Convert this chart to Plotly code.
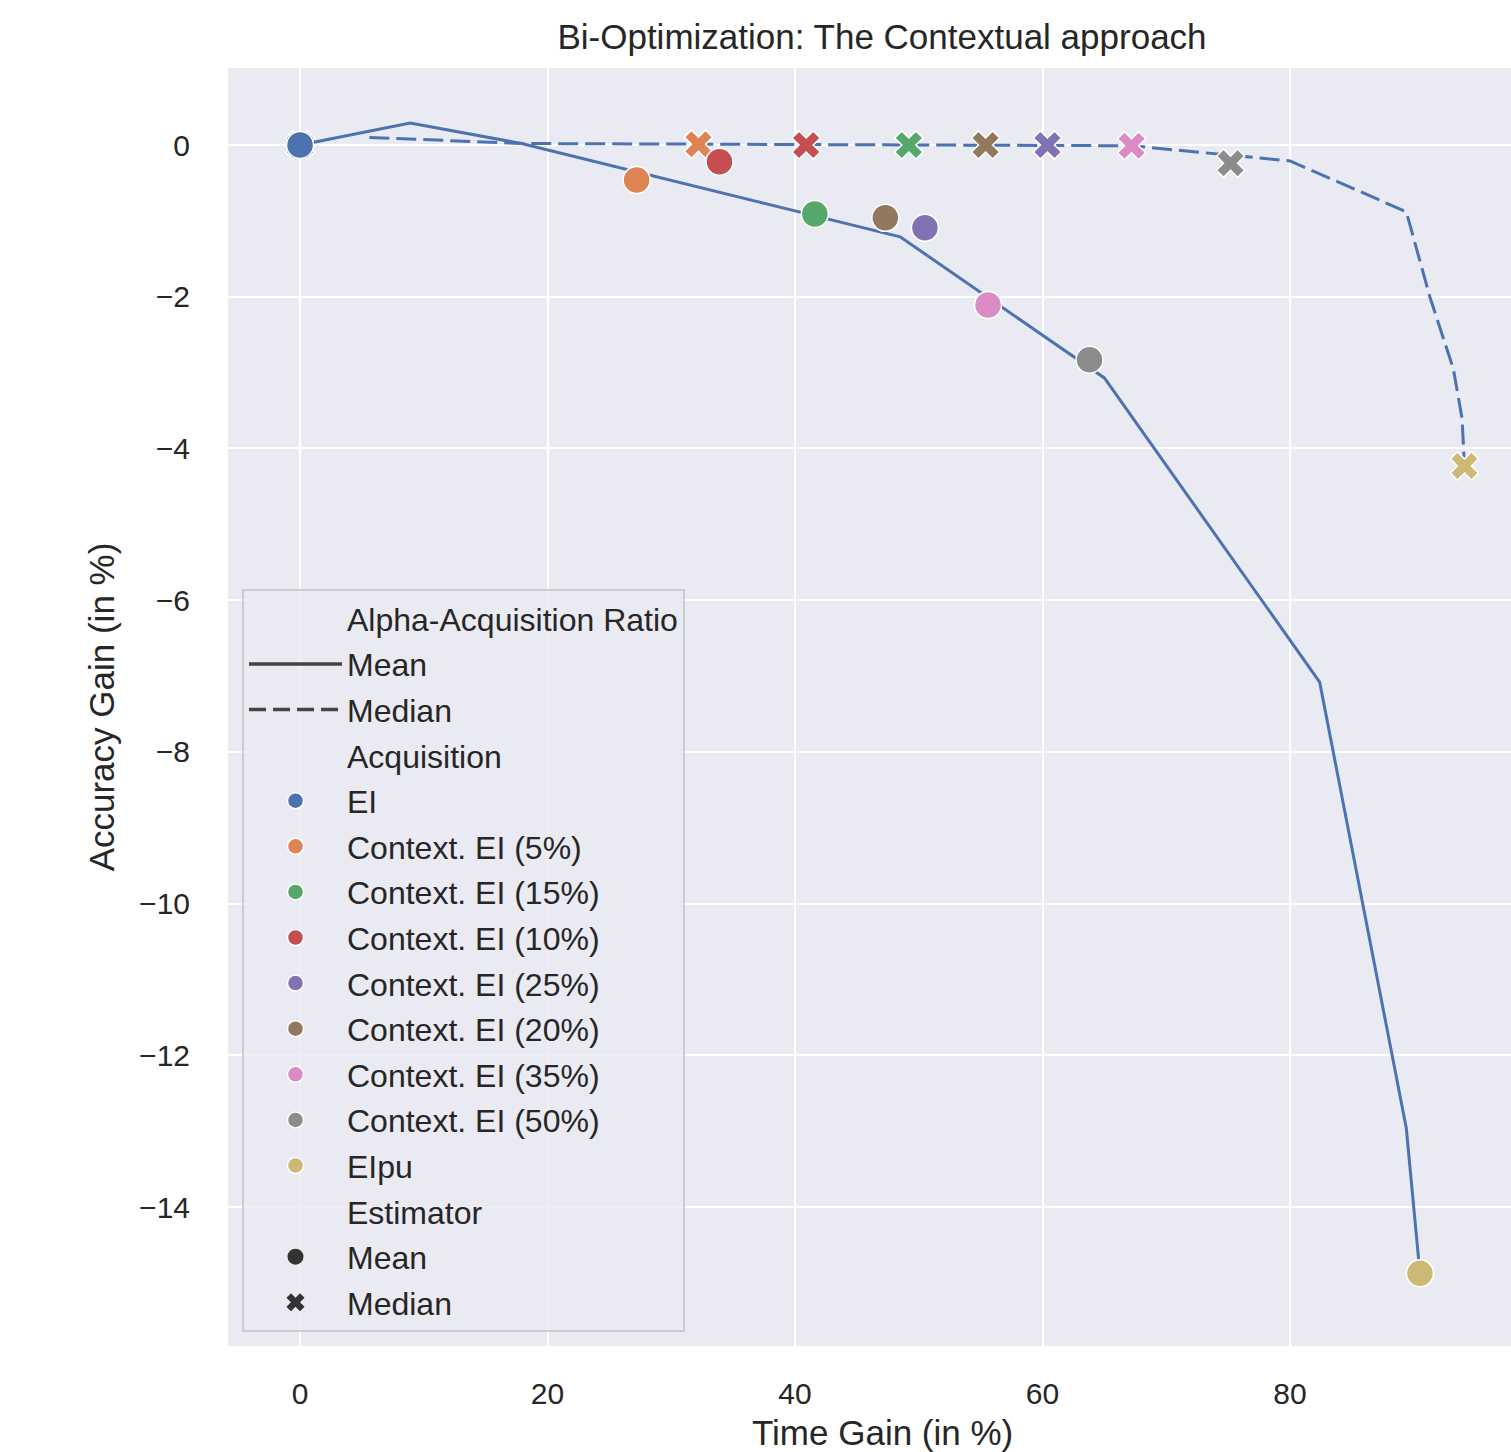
import plotly.graph_objects as go

# ---------------- data ----------------
acquisitions = ["EI", "Context. EI (5%)", "Context. EI (15%)", "Context. EI (10%)",
                "Context. EI (25%)", "Context. EI (20%)", "Context. EI (35%)",
                "Context. EI (50%)", "EIpu"]
palette = ["#4C72B0", "#DD8452", "#55A868", "#C44E52", "#8172B3",
           "#937860", "#DA8BC3", "#8C8C8C", "#CCB974"]

mean_time = [0.0, 27.2, 41.6, 33.9, 50.5, 47.3, 55.6, 63.8, 90.5]
mean_acc = [0.0, -0.46, -0.91, -0.22, -1.09, -0.96, -2.11, -2.83, -14.87]
median_time = [0.0, 32.2, 49.2, 40.9, 60.4, 55.4, 67.2, 75.2, 94.1]
median_acc = [0.0, 0.01, 0.0, 0.0, 0.0, 0.0, -0.01, -0.24, -4.23]

mean_line_time = [0.0, 8.9, 17.9, 48.5, 65.0, 82.4, 89.4, 90.5]
mean_line_acc = [0.0, 0.29, 0.02, -1.21, -3.07, -7.08, -12.96, -14.87]
median_line_time = [5.6, 17.9, 67.2, 80.0, 89.4, 91.3, 93.2, 93.9, 94.1]
median_line_acc = [0.10, 0.02, -0.01, -0.21, -0.88, -2.00, -2.95, -3.60, -4.23]

x_ticks = [0, 20, 40, 60, 80]
y_ticks = [0, -2, -4, -6, -8, -10, -12, -14]

title = "Bi-Optimization: The Contextual approach"
x_label = "Time Gain (in %)"
y_label = "Accuracy Gain (in %)"

FONT = "Liberation Sans, Arial, sans-serif"
TXT = "#262626"
LINE_C = "#4C72B0"
LEG_GREY = "#444444"

# figure fills the window exactly (body margin removed below)
W, H = 1511, 1452
ML, MR, MT, MB = 228, 0, 68, 106
PW = W - ML - MR
PH = H - MT - MB


def px_x(px):  # page px -> paper x
    return (px - ML) / PW


def px_y(py):  # page px -> paper y
    return (H - MB - py) / PH


fig = go.Figure()
gid = [0]


def grp():
    gid[0] += 1
    return "g%d" % gid[0]


def header(text):
    fig.add_trace(go.Scatter(x=[None], y=[None], mode="markers", name=text,
                             marker=dict(color="rgba(0,0,0,0)", size=1),
                             legendgroup=grp(), hoverinfo="skip"))


# ---- lines ----
fig.add_trace(go.Scatter(x=mean_line_time, y=mean_line_acc, mode="lines",
                         line=dict(color=LINE_C, width=3), showlegend=False,
                         hoverinfo="skip"))
fig.add_trace(go.Scatter(x=median_line_time, y=median_line_acc, mode="lines",
                         line=dict(color=LINE_C, width=3, dash="20px,7px"),
                         showlegend=False, hoverinfo="skip"))

# ---- median markers (X) ----
for i, a in enumerate(acquisitions):
    fig.add_trace(go.Scatter(x=[median_time[i]], y=[median_acc[i]], mode="markers",
                             marker=dict(symbol="x", size=25, color=palette[i],
                                         line=dict(color="white", width=1.5)),
                             showlegend=False, name=a + " median"))

# ---- legend: Alpha-Acquisition Ratio ----
header("Alpha-Acquisition Ratio")
fig.add_trace(go.Scatter(x=[None], y=[None], mode="lines", name="Mean",
                         line=dict(color=LEG_GREY, width=3.5), legendgroup=grp()))
fig.add_trace(go.Scatter(x=[None], y=[None], mode="lines", name="Median",
                         line=dict(color=LEG_GREY, width=3.5, dash="17px,7px"),
                         legendgroup=grp()))

# ---- mean markers (circles), shown in legend as Acquisition ----
header("Acquisition")
for i, a in enumerate(acquisitions):
    fig.add_trace(go.Scatter(x=[mean_time[i]], y=[mean_acc[i]], mode="markers",
                             marker=dict(symbol="circle", size=27, color=palette[i],
                                         line=dict(color="white", width=1.5)),
                             name=a, legendgroup=grp()))

# ---- legend: Estimator ----
header("Estimator")
fig.add_trace(go.Scatter(x=[None], y=[None], mode="markers", name="Mean",
                         marker=dict(symbol="circle", size=20, color="#333333"),
                         legendgroup=grp()))
fig.add_trace(go.Scatter(x=[None], y=[None], mode="markers", name="Median",
                         marker=dict(symbol="x", size=20, color="#333333"),
                         legendgroup=grp()))

axis_common = dict(showgrid=True, gridcolor="white", gridwidth=2, zeroline=False,
                   showline=False, ticks="", tickfont=dict(family=FONT, size=30, color=TXT))

fig.update_layout(
    width=W, height=H,
    margin=dict(l=ML, r=MR, t=MT, b=MB),
    paper_bgcolor="white", plot_bgcolor="#EAEAF2",
    font=dict(family=FONT, color=TXT),
    title=dict(text=title, xref="paper", x=px_x(882), xanchor="center",
               yref="container", y=1 - 37 / H, yanchor="middle",
               font=dict(family=FONT, size=35, color=TXT)),
    xaxis=dict(range=[-5.82, 97.86], tickvals=x_ticks, ticklabelstandoff=27,
               **axis_common),
    yaxis=dict(range=[-15.83, 1.015], tickvals=y_ticks,
               title=dict(text=y_label, font=dict(family=FONT, size=35, color=TXT), standoff=13),
               ticklabelstandoff=37, **axis_common),
    legend=dict(x=px_x(242), y=px_y(589), xanchor="left", yanchor="top",
                bgcolor="rgba(234,234,242,0.8)", bordercolor="#CCCCCC", borderwidth=2,
                font=dict(family=FONT, size=32, color=TXT),
                itemsizing="trace", itemwidth=93, tracegroupgap=1,
                traceorder="grouped"),
    annotations=[dict(text=x_label, xref="paper", yref="paper",
                      x=px_x(882), y=px_y(1432), xanchor="center", yanchor="middle",
                      showarrow=False, font=dict(family=FONT, size=35, color=TXT))],
    showlegend=True,
)

fig.write_html("out.html", config={"displayModeBar": False},
               post_script="document.body.style.margin='0';"
                           "document.body.style.overflow='hidden';")
